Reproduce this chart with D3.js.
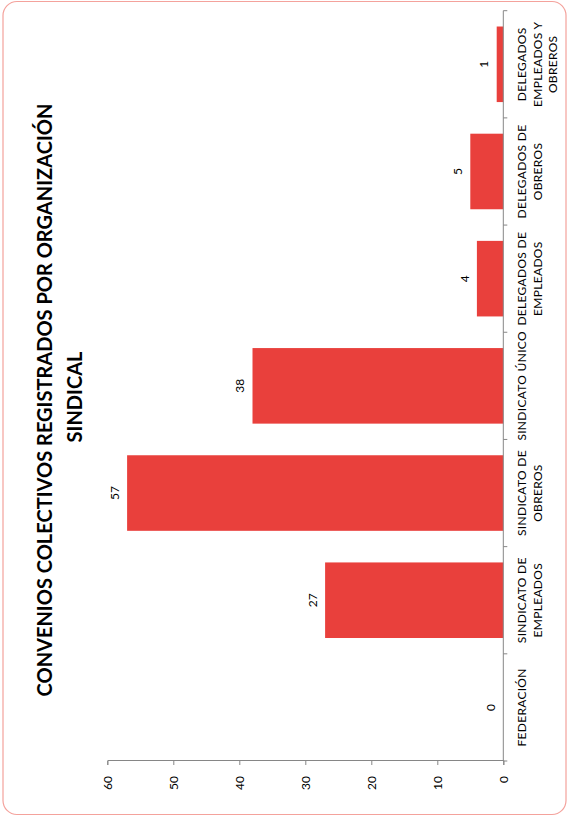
<!DOCTYPE html>
<html>
<head>
<meta charset="utf-8">
<script src="https://cdn.jsdelivr.net/npm/d3@7"></script>
<style>
  html, body { margin: 0; padding: 0; background: #fff; }
  svg { display: block; }
  text { font-family: Lato, "Open Sans", sans-serif; fill: #000; }
</style>
</head>
<body>
<svg id="chart" width="568" height="816"></svg>
<script>
// ---- data ----
const categories = [
  ["FEDERACIÓN"],
  ["SINDICATO DE", "EMPLEADOS"],
  ["SINDICATO DE", "OBREROS"],
  ["SINDICATO ÚNICO"],
  ["DELEGADOS DE", "EMPLEADOS"],
  ["DELEGADOS DE", "OBREROS"],
  ["DELEGADOS", "EMPLEADOS Y", "OBREROS"]
];
const values = [0, 27, 57, 38, 4, 5, 1];
const yTicks = [0, 10, 20, 30, 40, 50, 60];
const titleLines = ["CONVENIOS COLECTIVOS REGISTRADOS POR ORGANIZACIÓN", "SINDICAL"];

// ---- layout (chart drawn in unrotated frame 816 x 568, then rotated -90deg) ----
const W = 816, H = 568;
const svg = d3.select("#chart");
const g = svg.append("g").attr("transform", `translate(0,${W}) rotate(-90)`);

// border
g.append("rect")
  .attr("x", 1.5).attr("y", 3).attr("width", W - 3).attr("height", H - 5)
  .attr("rx", 14).attr("ry", 14)
  .attr("fill", "#fff").attr("stroke", "#f4a29c").attr("stroke-width", 1.2);

const keys = categories.map((c, i) => i);
const x = d3.scaleBand().domain(keys).range([55, 805.3])
  .paddingInner(0.295).paddingOuter(0.1475);
const y = d3.scaleLinear().domain([0, 60]).range([503.3, 107.3]);

// title
const title = g.append("text").attr("text-anchor", "middle")
  .style("font-weight", "bold").style("font-size", "20px");
title.append("tspan").attr("x", 416).attr("y", 51.7).text(titleLines[0]);
title.append("tspan").attr("x", 419).attr("y", 81.5).text(titleLines[1]);

// bars
g.selectAll("rect.bar").data(values).join("rect")
  .attr("class", "bar")
  .attr("x", (d, i) => x(i))
  .attr("width", x.bandwidth())
  .attr("y", d => y(d))
  .attr("height", d => y(0) - y(d))
  .attr("fill", "#e9403c");

// data labels
g.selectAll("text.val").data(values).join("text")
  .attr("class", "val")
  .attr("x", (d, i) => x(i) + x.bandwidth() / 2)
  .attr("y", d => y(d) - 8.4)
  .attr("text-anchor", "middle")
  .style("font-size", "12px")
  .text(d => d);

// value axis
const yAxis = d3.axisLeft(y).tickValues(yTicks).tickSize(4).tickPadding(11);
const ya = g.append("g").attr("transform", "translate(55,0)").call(yAxis);
ya.select(".domain").attr("stroke", "#868686");
ya.selectAll(".tick line").attr("stroke", "#868686");
ya.selectAll(".tick text").style("font-size", "12px").style("font-family", "Lato, sans-serif").attr("fill", "#000");

// category axis
const x0 = x.range()[0], x1 = x.range()[1];
const ca = g.append("g").attr("transform", `translate(0,${y(0)})`);
ca.append("line").attr("x1", x0).attr("x2", x1).attr("stroke", "#868686");
const bounds = keys.map(i => x(i) - x.step() * x.paddingInner() / 2).concat([x1]);
bounds[0] = x0;
ca.selectAll("line.tk").data(bounds).join("line")
  .attr("class", "tk")
  .attr("x1", d => d).attr("x2", d => d)
  .attr("y1", 0).attr("y2", 4)
  .attr("stroke", "#868686");

// category labels
const cl = g.selectAll("text.cat").data(categories).join("text")
  .attr("class", "cat")
  .attr("text-anchor", "middle")
  .style("font-size", "12px")
  .style("letter-spacing", "0.3px");
cl.each(function(lines, i) {
  const t = d3.select(this);
  lines.forEach((ln, j) => {
    t.append("tspan")
      .attr("x", x(i) + x.bandwidth() / 2)
      .attr("y", 526 + j * 15.5)
      .text(ln);
  });
});
</script>
</body>
</html>
